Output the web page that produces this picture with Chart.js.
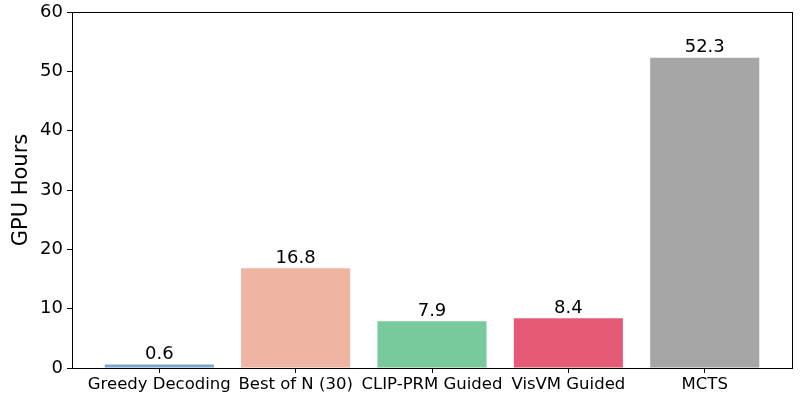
<!DOCTYPE html>
<html>
<head>
<meta charset="utf-8">
<script src="https://cdn.jsdelivr.net/npm/chart.js@4"></script>
<style>
  body { margin: 0; background: white; }
  #wrap { width: 800px; height: 400px; }
</style>
</head>
<body>
<div id="wrap"><canvas id="gpu-chart"></canvas></div>
<script>
var methods = ["Greedy Decoding", "Best of N (30)", "CLIP-PRM Guided", "VisVM Guided", "MCTS"]
var gpuHours = [0.6, 16.8, 7.9, 8.4, 52.3]
var barColours = ["#7ba6cf", "#f0b5a2", "#78c99b", "#e55b75", "#a6a6a6"]
var yTicks = [0, 10, 20, 30, 40, 50, 60]

var font = "DejaVu Sans"

// value above each bar
var valueLabels = {
  id: "valueLabels",
  afterDatasetsDraw(chart) {
    var ctx = chart.ctx
    ctx.save()
    ctx.font = "18px '" + font + "'"
    ctx.fillStyle = "#000"
    ctx.textAlign = "center"
    ctx.textBaseline = "bottom"
    chart.getDatasetMeta(0).data.forEach((bar, i) => {
      ctx.fillText(gpuHours[i].toFixed(1), bar.x, bar.y - 1)
    })
    ctx.restore()
  }
}

// box around the plot area
var frame = {
  id: "frame",
  afterDraw(chart) {
    var a = chart.chartArea
    var ctx = chart.ctx
    ctx.save()
    ctx.strokeStyle = "#000"
    ctx.lineWidth = 1
    ctx.strokeRect(Math.round(a.left) + 0.5, Math.round(a.top) + 0.5,
      Math.round(a.right - a.left), Math.round(a.bottom - a.top))
    ctx.restore()
  }
}

new Chart(document.getElementById("gpu-chart"), {
  type: "bar",
  data: {
    datasets: [{
      data: gpuHours.map((v, i) => ({ x: i, y: v })),
      backgroundColor: barColours,
      borderWidth: 0,
      barPercentage: 0.8,
      categoryPercentage: 1.0
    }]
  },
  plugins: [valueLabels, frame],
  options: {
    responsive: true,
    maintainAspectRatio: false,
    animation: false,
    layout: { padding: { top: 12, right: 8, left: 0, bottom: 0 } },
    plugins: {
      legend: { display: false },
      tooltip: { enabled: false }
    },
    scales: {
      x: {
        type: "linear",
        offset: false,
        min: -0.64,
        max: 4.64,
        afterBuildTicks: s => { s.ticks = methods.map((m, i) => ({ value: i })) },
        afterFit: s => { s.height = 32; s.paddingLeft = 0; s.paddingRight = 0 },
        grid: { display: true, offset: false, drawOnChartArea: false, tickLength: 5, color: "#000", tickColor: "#000" },
        border: { display: true, color: "#000" },
        ticks: {
          color: "#000",
          font: { family: font, size: 16.5 },
          padding: 2,
          maxRotation: 0,
          autoSkip: false,
          callback: v => methods[v]
        }
      },
      y: {
        min: 0,
        max: 60,
        afterBuildTicks: s => { s.ticks = yTicks.map(v => ({ value: v })) },
        afterFit: s => { s.width = 72; s.paddingTop = 0; s.paddingBottom = 0 },
        grid: { display: true, drawOnChartArea: false, tickLength: 5, color: "#000", tickColor: "#000" },
        border: { display: true, color: "#000" },
        ticks: {
          color: "#000",
          font: { family: font, size: 18 },
          padding: 4
        },
        title: {
          display: true,
          text: "GPU Hours",
          color: "#000",
          font: { family: font, size: 21 },
          padding: { top: 9, bottom: 0 }
        }
      }
    }
  }
})
</script>
</body>
</html>
